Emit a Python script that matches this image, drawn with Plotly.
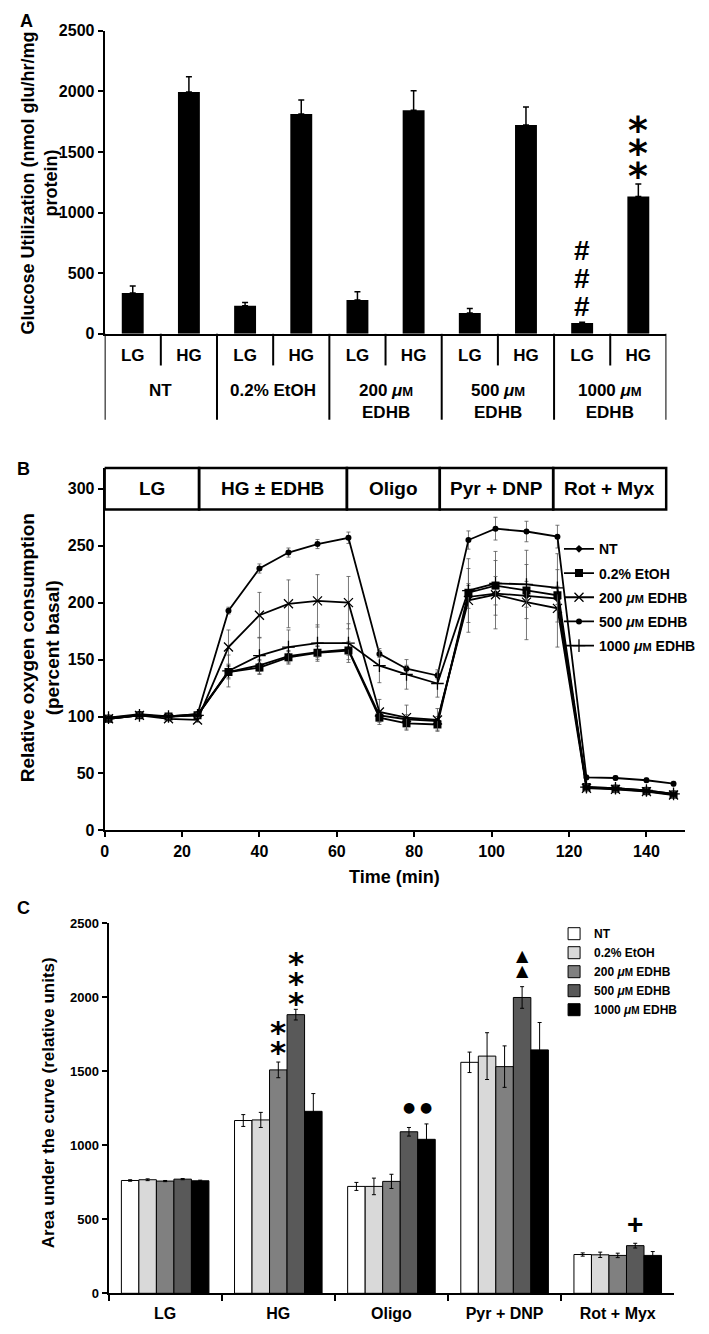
import plotly.graph_objects as go

# page body has an 8px margin, so the figure is drawn 16px smaller and
# all layout positions below are given in page pixels then shifted
PAGE_W, PAGE_H = 709, 1334
OFF = 8
W, H = PAGE_W - 2 * OFF, PAGE_H - 2 * OFF


def px(x):
    return (x - OFF) / W


def py(y):
    return 1 - (y - OFF) / H


FONT = "Liberation Sans, Arial, Helvetica, sans-serif"
SYMFONT = "DejaVu Sans, Liberation Sans, sans-serif"


def um(size):
    return "<i>μ</i><span style='font-size:%dpx'>M</span>" % size


# ---------------- A: glucose utilization ----------------
a_groups = ["NT", "0.2% EtOH", "200 " + um(13) + "<br>EDHB",
            "500 " + um(13) + "<br>EDHB", "1000 " + um(13) + "<br>EDHB"]
a_lg = [337, 231, 280, 171, 90]
a_lg_err = [57, 27, 68, 38, 5]
a_hg = [1995, 1813, 1845, 1723, 1133]
a_hg_err = [125, 116, 160, 149, 103]

# ---------------- B: oxygen consumption trace ----------------
b_time = [1, 9, 16.5, 24, 32, 40, 47.5, 55, 63, 71, 78, 86,
          94, 101, 109, 117, 124.5, 132, 140, 147]
b_phases = ["LG", "HG ± EDHB", "Oligo", "Pyr + DNP", "Rot + Myx"]
b_phase_edges = [0, 24.4, 62.6, 86.6, 115.9, 145.1]
b_nt = [99, 102, 100, 102, 139, 145, 153, 156.6, 158.8, 101, 97.6, 96,
        205, 208, 206, 203.5, 38, 37, 35, 32]
b_nt_err = [2, 2, 2, 2, 6, 5, 5, 5, 5, 4, 4, 4, 10, 10, 10, 10, 2, 2, 2, 2]
b_etoh = [98, 101, 100, 101, 139, 143, 152, 156, 158, 99, 94, 93,
          208.7, 215, 210.7, 206.4, 38, 36.5, 34.5, 31.5]
b_etoh_err = [2, 2, 2, 2, 5, 6, 5, 6, 8, 4, 5, 5, 8, 8, 8, 8, 2, 2, 2, 2]
b_200 = [98, 101, 98, 97, 161, 189, 199, 201.6, 200, 104, 99, 97,
         202, 207, 200.5, 195, 37, 36, 34, 31]
b_200_err = [2, 2, 2, 2, 15, 20, 21, 23, 23, 11, 11, 10, 28, 30, 33, 34, 3, 3, 3, 3]
b_500 = [98, 101, 100, 102, 193, 230, 244, 251.5, 257, 155, 142, 136,
         255, 265, 262.5, 258, 46.5, 46, 44, 41]
b_500_err = [2, 2, 2, 2, 3, 4, 4, 4, 5, 3, 3, 3, 8, 10, 9, 10, 2, 2, 2, 2]
b_1000 = [99, 101, 100, 101, 140, 153.5, 161, 164.5, 164.5, 144.7, 137, 129,
          210.6, 217, 216, 213, 38, 37, 35, 32]
b_1000_err = [2, 2, 2, 2, 14, 16, 15, 16, 17, 15, 13, 12, 28, 28, 30, 30, 3, 3, 3, 3]

# ---------------- C: area under the curve ----------------
c_phases = ["LG", "HG", "Oligo", "Pyr + DNP", "Rot + Myx"]
c_nt = [762, 1167, 722, 1560, 262]
c_nt_err = [5, 40, 27, 69, 11]
c_etoh = [767, 1171, 722, 1602, 260]
c_etoh_err = [6, 51, 56, 158, 18]
c_200 = [758, 1509, 756, 1531, 256]
c_200_err = [4, 53, 48, 140, 15]
c_500 = [771, 1882, 1091, 1998, 322]
c_500_err = [4, 36, 29, 73, 16]
c_1000 = [760, 1229, 1040, 1644, 256]
c_1000_err = [4, 120, 104, 185, 26]

fig = go.Figure()

# ---- A bars
a_x = list(range(10))
a_y = [v for pair in zip(a_lg, a_hg) for v in pair]
a_err = [v for pair in zip(a_lg_err, a_hg_err) for v in pair]
fig.add_trace(go.Bar(x=a_x, y=a_y, width=0.39, marker_color="black",
                     marker_line_width=0, showlegend=False,
                     error_y=dict(type="data", array=a_err, arrayminus=[0] * 10, symmetric=False,
                                  color="black", thickness=1.5, width=3),
                     xaxis="x", yaxis="y"))

# ---- B lines
b_specs = [
    ("NT", b_nt, b_nt_err, dict(symbol="diamond", size=6)),
    ("0.2% EtOH", b_etoh, b_etoh_err, dict(symbol="square", size=8)),
    ("200 " + um(11) + " EDHB", b_200, b_200_err,
     dict(symbol="x-thin-open", size=9, line=dict(width=1.3, color="black"))),
    ("500 " + um(11) + " EDHB", b_500, b_500_err, dict(symbol="circle", size=6)),
    ("1000 " + um(11) + " EDHB", b_1000, b_1000_err,
     dict(symbol="cross-thin-open", size=9, line=dict(width=1.3, color="black"))),
]
for name, vals, err, mk in b_specs:
    mk = dict(mk, color="black")
    fig.add_trace(go.Scatter(x=b_time, y=vals, name=name, mode="lines+markers",
                             line=dict(color="black", width=1.8), marker=mk,
                             error_y=dict(type="data", array=err, color="#555555",
                                          thickness=0.8, width=2),
                             legend="legend", legendgroup="b" + name,
                             xaxis="x2", yaxis="y2"))

# ---- C bars
c_specs = [
    ("NT", c_nt, c_nt_err, "#ffffff"),
    ("0.2% EtOH", c_etoh, c_etoh_err, "#d9d9d9"),
    ("200 " + um(10) + " EDHB", c_200, c_200_err, "#808080"),
    ("500 " + um(10) + " EDHB", c_500, c_500_err, "#595959"),
    ("1000 " + um(10) + " EDHB", c_1000, c_1000_err, "#000000"),
]
for name, vals, err, col in c_specs:
    fig.add_trace(go.Bar(x=c_phases, y=vals, name=name, marker_color=col,
                         marker_line=dict(color="black", width=1),
                         error_y=dict(type="data", array=err, color="black",
                                      thickness=1, width=2),
                         legend="legend2", legendgroup="c" + name,
                         xaxis="x3", yaxis="y3"))

axis_common = dict(showgrid=False, zeroline=False, linecolor="black", linewidth=2,
                   ticks="outside", tickcolor="black", tickwidth=2, ticklen=5,
                   tickfont=dict(family=FONT, size=16, color="black", weight="bold"))

fig.update_layout(
    width=W, height=H, margin=dict(l=0, r=0, t=0, b=0),
    paper_bgcolor="white", plot_bgcolor="white",
    font=dict(family=FONT, color="black", weight="bold"),
    barmode="group", bargap=0.226, bargroupgap=0,
    xaxis=dict(axis_common, domain=[px(102), px(672)], range=[-0.5, 9.5], anchor="y",
               ticks="", tickvals=a_x, ticktext=["LG", "HG"] * 5, ticklabelstandoff=5,
               tickfont=dict(family=FONT, size=17, color="black", weight="bold")),
    yaxis=dict(axis_common, domain=[py(330), py(23)], range=[0, 2500], anchor="x",
               tickvals=[0, 500, 1000, 1500, 2000, 2500]),
    xaxis2=dict(axis_common, domain=[px(102), px(691)], range=[0, 150], anchor="y2",
                tickvals=[0, 20, 40, 60, 80, 100, 120, 140]),
    yaxis2=dict(axis_common, domain=[py(833), py(466)], range=[0, 318.2], anchor="x2",
                tickvals=[0, 50, 100, 150, 200, 250, 300]),
    xaxis3=dict(axis_common, domain=[px(106), px(680)], range=[-0.5, 4.5], anchor="y3",
                tickson="boundaries", ticklen=6, ticklabelstandoff=4),
    yaxis3=dict(axis_common, domain=[py(1302), py(927)], range=[0, 2500], anchor="x3",
                tickvals=[0, 500, 1000, 1500, 2000, 2500],
                tickfont=dict(family=FONT, size=13, color="black", weight="bold")),
    legend=dict(x=px(563), y=py(532), xanchor="left", yanchor="top", itemwidth=30,
                tracegroupgap=3, bgcolor="rgba(0,0,0,0)",
                font=dict(family=FONT, size=14, color="black", weight="bold")),
    legend2=dict(x=px(558), y=py(923), xanchor="left", yanchor="top", itemwidth=30,
                 tracegroupgap=0, bgcolor="rgba(0,0,0,0)",
                 font=dict(family=FONT, size=12, color="black", weight="bold")),
)

shapes = []
# A: category separators below the x axis
for k in range(11):
    bottom = 417 if k % 2 == 0 else 362
    shapes.append(dict(type="line", xref="x", yref="paper", x0=k - 0.5, x1=k - 0.5,
                       y0=py(330), y1=py(bottom), line=dict(color="black", width=2)))
# B: phase header boxes
for i in range(len(b_phases)):
    shapes.append(dict(type="rect", xref="x2", yref="paper",
                       x0=b_phase_edges[i], x1=b_phase_edges[i + 1],
                       y0=py(508), y1=py(466), line=dict(color="black", width=2.5)))
fig.update_layout(shapes=shapes)

ann = []


def text(x, y, s, size, xref="paper", yref="paper", angle=0, family=FONT,
         xanchor="center", yanchor="middle", **kw):
    ann.append(dict(x=x, y=y, xref=xref, yref=yref, text=s, showarrow=False,
                    textangle=angle, xanchor=xanchor, yanchor=yanchor,
                    font=dict(family=family, size=size, color="black", weight="bold"), **kw))


# panel letters and titles
text(px(23), py(13), "A", 18)
text(px(20), py(467), "B", 18)
text(px(20), py(912), "C", 18)
text(px(36), py(177), "Glucose Utilization (nmol glu/hr/mg<br>protein)", 18, angle=-90)
text(px(36), py(648), "Relative oxygen consumption<br>(percent basal)", 19, angle=-90)
text(px(45), py(1109), "Area under the curve (relative units)", 17, angle=-90)
text(px(396), py(880), "Time (min)", 18)

# A group labels
for g, lab in enumerate(a_groups):
    text(2 * g + 0.5, py(376), lab, 17, xref="x", yanchor="top")

# B phase labels
for i, lab in enumerate(b_phases):
    text((b_phase_edges[i] + b_phase_edges[i + 1]) / 2, py(487), lab, 19, xref="x2")


def stack(xref, yref, x, y, sym, n, off, step, size, family=SYMFONT, adj=0):
    for k in range(n):
        text(x, y, sym, size, xref=xref, yref=yref, family=family,
             yshift=off + k * step + adj)


# A significance marks
stack("x", "y", 8, a_lg[4] + a_lg_err[4], "#", 3, 16, 28, 28, family=FONT)
stack("x", "y", 9, a_hg[4] + a_hg_err[4], "*", 3, 18, 23, 38, adj=-10)

# C significance marks (bar offsets within a group)
bw = (1 - 0.226) / 5


def off(i):
    return -0.387 + bw * (i + 0.5)


stack("x3", "y3", 1 + off(2), c_200[1] + c_200_err[1], "*", 2, 18, 20, 31, adj=-8)
stack("x3", "y3", 1 + off(3), c_500[1] + c_500_err[1], "*", 3, 14, 20, 31, adj=-8)
dots_base = max(c_500[2] + c_500_err[2], c_1000[2] + c_1000_err[2])
stack("x3", "y3", 2 + off(3), dots_base, "●", 1, 17, 0, 14)
stack("x3", "y3", 2 + off(4), dots_base, "●", 1, 17, 0, 14)
stack("x3", "y3", 3 + off(3), c_500[3] + c_500_err[3], "▲", 2, 16, 15, 16)
stack("x3", "y3", 4 + off(3), c_500[4] + c_500_err[4], "+", 1, 19, 0, 28, family=FONT)

fig.update_layout(annotations=ann)

fig.write_html("out.html")
